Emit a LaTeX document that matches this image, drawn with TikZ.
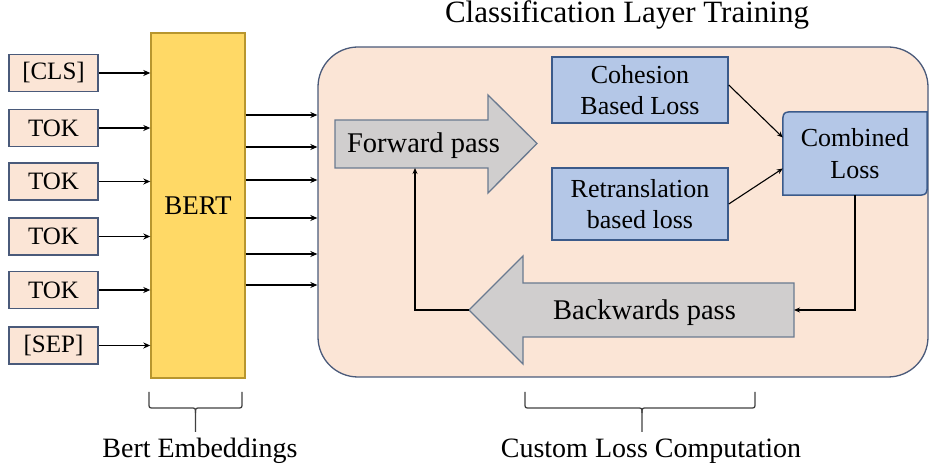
\documentclass[tikz,border=0pt]{standalone}
\usepackage{fontspec}
\setmainfont{Liberation Serif}
\usetikzlibrary{arrows.meta}
\definecolor{peach}{HTML}{FBE5D6}
\definecolor{tokborder}{HTML}{4A5A7A}
\definecolor{bertfill}{HTML}{FFD966}
\definecolor{bertborder}{HTML}{B8962E}
\definecolor{bluefill}{HTML}{B4C7E7}
\definecolor{blueborder}{HTML}{3B5A8A}
\definecolor{greyfill}{HTML}{D0CECE}
\definecolor{greyborder}{HTML}{6A7A90}
\definecolor{bigborder}{HTML}{4A5A7A}
\definecolor{bracecol}{HTML}{404040}
\begin{document}
\begin{tikzpicture}[x=1pt,y=-1pt,
  tokbox/.style={draw=tokborder, line width=1.6pt, fill=peach, inner sep=0pt,
    minimum width=89pt, minimum height=37pt, font=\fontsize{25}{30}\selectfont},
  bertbox/.style={draw=bertborder, line width=1.4pt, fill=bertfill, inner sep=0pt,
    minimum width=94pt, minimum height=345pt, font=\fontsize{27}{32}\selectfont},
  bigbox/.style={draw=bigborder, line width=1.3pt, fill=peach, rounded corners=40pt,
    minimum width=610pt, minimum height=330pt, inner sep=0pt},
  lossbox/.style={draw=blueborder, line width=1.5pt, fill=bluefill, inner sep=0pt,
    minimum width=176pt, align=center, font=\fontsize{26}{31}\selectfont},
  passarrow/.style={draw=greyborder, line width=1.3pt, fill=greyfill, line join=miter},
  passtext/.style={anchor=base, font=\fontsize{28.5}{34}\selectfont},
  thickarrow/.style={line width=1.8pt, -{Stealth[length=7pt,width=6pt]}},
  thinarrow/.style={line width=1.1pt, -{Stealth[length=6pt,width=5pt]}},
  bracestyle/.style={draw=bracecol, line width=1.3pt},
  labeltext/.style={anchor=base, font=\fontsize{28}{33}\selectfont}
]
\useasboundingbox (0,0) rectangle (930,470);

% title
\node[anchor=base, font=\fontsize{31}{37}\selectfont] (title) at (627,23) {Classification Layer Training};

% big container
\node[bigbox] (big) at (623,212) {};

% tokens
\node[tokbox] (t1) at (53.5,73) {[CLS]};
\node[tokbox] (t2) at (53.5,128) {TOK};
\node[tokbox] (t3) at (53.5,181.5) {TOK};
\node[tokbox] (t4) at (53.5,236.5) {TOK};
\node[tokbox] (t5) at (53.5,290) {TOK};
\node[tokbox] (t6) at (53.5,345.5) {[SEP]};

% BERT
\node[bertbox] (bert) at (198,205.5) {BERT};

\foreach \t in {t1,t2,t3,t4,t5,t6}
  \draw[thickarrow] (\t.east) -- (\t.east -| bert.west);

% BERT outputs
\foreach \i/\y in {1/115,2/147,3/180,4/218,5/254,6/285}{
  \coordinate (o\i) at (0,\y);
  \draw[thickarrow] (bert.east |- o\i) -- (big.west |- o\i);
}

% forward pass arrow
\draw[passarrow] (335,120) -- (488,120) -- (488,95) -- (537,143.5) -- (488,193) -- (488,168) -- (335,168) -- cycle;
\node[passtext] (fwd) at (423.5,153) {Forward pass};
\coordinate (fwdbot) at (415,168);

% backwards pass arrow
\draw[passarrow] (794,283) -- (523,283) -- (523,256) -- (469,310) -- (523,364) -- (523,337) -- (794,337) -- cycle;
\node[passtext] (bwd) at (644.5,320) {Backwards pass};
\coordinate (bwdtip) at (469,310);
\coordinate (bwdright) at (794,310);

% loss boxes
\node[lossbox, minimum height=66pt] (coh) at (640,90) {Cohesion\\Based Loss};
\node[lossbox, minimum height=72pt] (ret) at (640,204) {Retranslation\\based loss};

% combined loss (round diagonal corners)
\node[minimum width=144pt, minimum height=83pt, inner sep=0pt] (comb) at (855,153.5) {};
\draw[draw=blueborder, line width=1.5pt, fill=bluefill]
  (comb.south west) -- ([yshift=-13pt]comb.north west)
  .. controls (comb.north west) .. ([xshift=13pt]comb.north west)
  -- (comb.north east) -- ([yshift=13pt]comb.south east)
  .. controls (comb.south east) .. ([xshift=-13pt]comb.south east) -- cycle;
\node[align=center, font=\fontsize{26}{32}\selectfont] (combtxt) at (comb) {Combined\\Loss};

% connectors
\draw[thinarrow] ([yshift=5pt]coh.east) -- ([yshift=16pt]comb.west);
\draw[thinarrow] (ret.east) -- ([yshift=-15pt]comb.west);
\draw[thinarrow] (comb.south) |- (bwdright);
\draw[thinarrow] (bwdtip) -| (fwdbot);

% braces
\draw[bracestyle] (149,392) -- (149,403) .. controls (149,408) .. (154,408) -- (190.5,408)
  .. controls (195.5,408) .. (195.5,413) -- (195.5,432);
\draw[bracestyle] (195.5,413) .. controls (195.5,408) .. (200.5,408) -- (237,408)
  .. controls (242,408) .. (242,403) -- (242,392);
\draw[bracestyle] (525,392) -- (525,403) .. controls (525,408) .. (530,408) -- (637,408)
  .. controls (642,408) .. (642,413) -- (642,432);
\draw[bracestyle] (642,413) .. controls (642,408) .. (647,408) -- (750,408)
  .. controls (755,408) .. (755,403) -- (755,392);

\node[labeltext] (lbert) at (200,458) {Bert Embeddings};
\node[labeltext] (lloss) at (651,458) {Custom Loss Computation};
\end{tikzpicture}
\end{document}
